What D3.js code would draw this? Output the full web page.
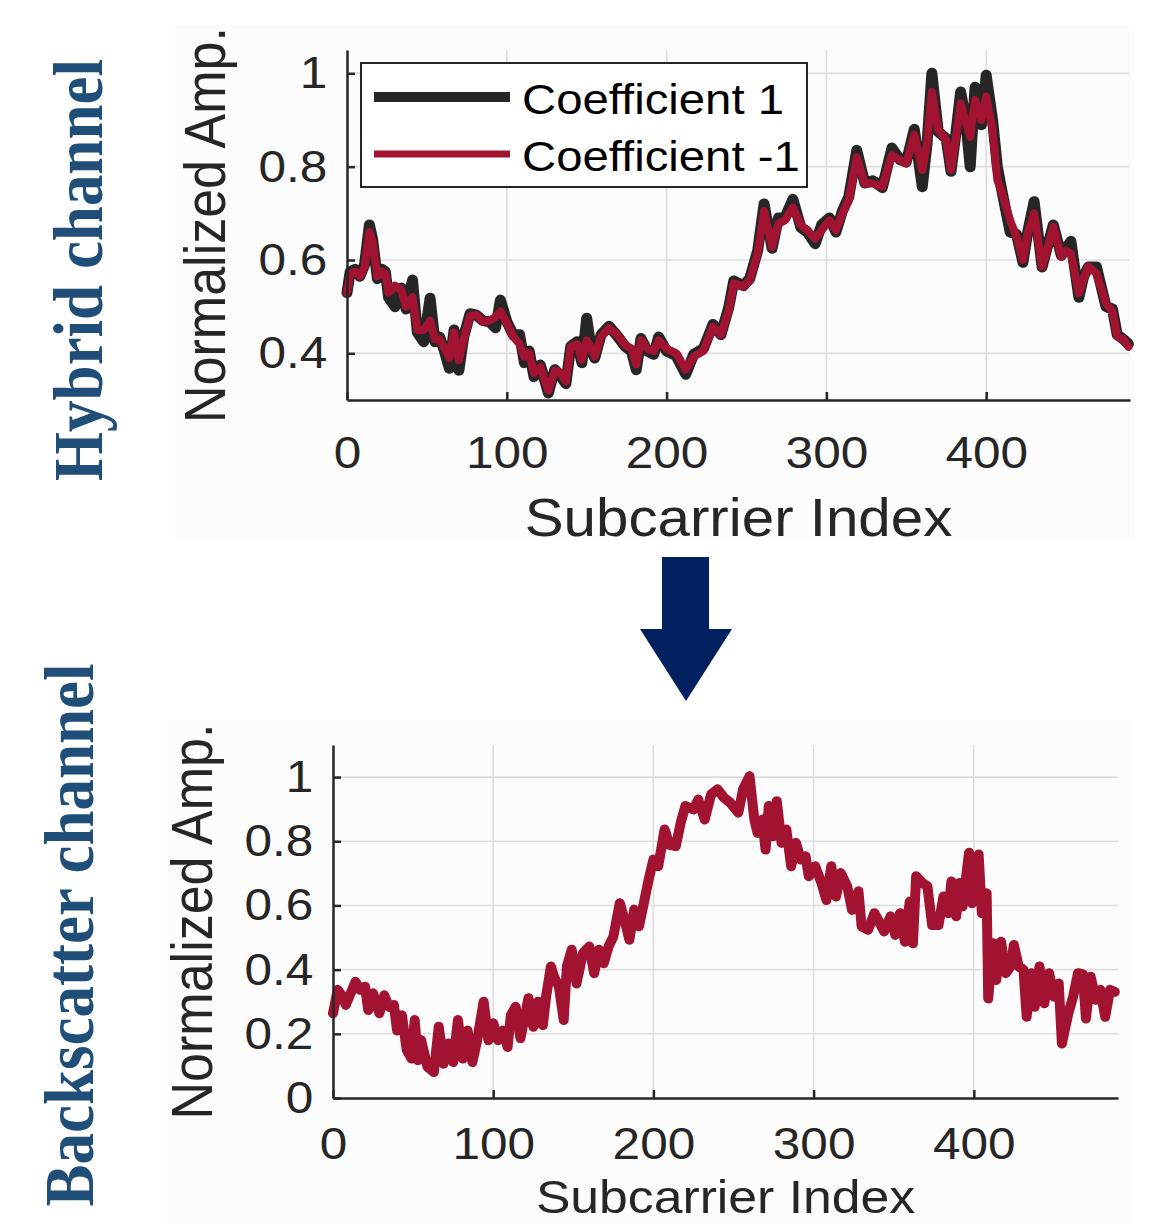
<!DOCTYPE html>
<html>
<head>
<meta charset="utf-8">
<script src="https://cdn.jsdelivr.net/npm/d3@7"></script>
<style>
  body { margin: 0; background: #ffffff; }
  svg text { font-family: "Liberation Sans", Arial, Helvetica, sans-serif; }
  .axis path, .axis line { stroke: #262626; stroke-width: 2.5; }
  .axis text { fill: #262626; }
  .grid line { stroke: #dedede; stroke-width: 1.6; }
</style>
</head>
<body>
<div id="chart"></div>
<script>

// hybrid channel (top)
var topIdx = [0,2,5,8,11,14,16,19,22,24,26,30,34,37,41,44,48,52,55,58,61,64,67,70,73,77,81,85,89,93,96,100,104,108,111,114,117,121,126,130,133,137,140,144,147,150,153,155,159,164,169,174,178,181,184,188,192,195,200,206,212,217,223,229,234,239,242,248,252,257,261,266,270,274,279,284,288,293,297,302,306,310,314,319,324,329,335,341,346,350,355,360,363,366,370,375,378,381,384,387,390,393,397,400,404,407,410,415,419,423,426,430,435,438,442,447,450,453,458,461,464,469,475,479,482,486,489];

var coefNeg = [0.53,0.57,0.575,0.565,0.585,0.66,0.64,0.565,0.575,0.57,0.53,0.545,0.535,0.50,0.52,0.45,0.45,0.47,0.43,0.43,0.41,0.39,0.445,0.385,0.43,0.48,0.482,0.468,0.47,0.478,0.49,0.465,0.436,0.42,0.393,0.40,0.357,0.37,0.32,0.363,0.36,0.34,0.414,0.42,0.386,0.428,0.41,0.393,0.436,0.454,0.44,0.418,0.41,0.376,0.428,0.41,0.405,0.428,0.41,0.40,0.365,0.393,0.405,0.457,0.44,0.493,0.55,0.543,0.557,0.614,0.705,0.628,0.678,0.685,0.712,0.675,0.664,0.646,0.664,0.685,0.664,0.70,0.728,0.82,0.764,0.764,0.757,0.825,0.814,0.807,0.868,0.793,0.85,0.96,0.879,0.857,0.793,0.86,0.936,0.90,0.864,0.943,0.90,0.95,0.879,0.771,0.743,0.685,0.65,0.60,0.657,0.70,0.586,0.62,0.671,0.607,0.62,0.614,0.529,0.56,0.586,0.571,0.507,0.49,0.436,0.43,0.414];

var coefPos = [0.53,0.575,0.58,0.565,0.59,0.675,0.645,0.56,0.58,0.575,0.52,0.50,0.54,0.495,0.557,0.445,0.425,0.518,0.425,0.435,0.405,0.368,0.45,0.364,0.435,0.485,0.482,0.47,0.468,0.455,0.514,0.468,0.44,0.44,0.38,0.405,0.35,0.375,0.315,0.365,0.355,0.335,0.415,0.425,0.38,0.475,0.405,0.39,0.44,0.458,0.438,0.415,0.405,0.365,0.432,0.405,0.398,0.435,0.405,0.395,0.355,0.398,0.41,0.462,0.44,0.50,0.555,0.545,0.56,0.62,0.72,0.625,0.69,0.69,0.73,0.67,0.66,0.635,0.675,0.69,0.66,0.705,0.735,0.835,0.765,0.77,0.755,0.84,0.815,0.81,0.88,0.757,0.85,1.0,0.875,0.86,0.79,0.87,0.96,0.905,0.80,0.97,0.89,0.996,0.90,0.80,0.745,0.66,0.655,0.595,0.66,0.725,0.585,0.625,0.675,0.61,0.625,0.64,0.52,0.565,0.585,0.585,0.50,0.495,0.44,0.43,0.42];

var topYTicks = [0.4, 0.6, 0.8, 1];

// backscatter channel (bottom)
var botIdx = [0,3,6,8,14,17,20,22,25,29,32,35,38,40,43,46,49,51,53,55,59,63,66,69,72,75,78,81,84,87,90,94,97,100,103,106,109,111,114,117,122,125,128,131,133,136,138,141,144,146,149,152,156,160,163,166,169,172,175,179,182,185,188,191,194,197,200,203,207,210,214,217,220,225,228,232,236,240,244,248,253,256,260,263,265,268,270,272,275,277,280,283,286,289,292,295,297,301,305,308,311,314,317,321,324,328,330,334,338,344,348,351,354,357,360,362,364,368,371,374,378,381,384,386,389,391,393,397,399,403,405,408,409,412,414,417,420,423,425,428,431,433,436,438,441,444,447,450,453,455,459,462,465,468,470,473,476,479,482,485,488];

var botAmp = [0.264,0.337,0.316,0.29,0.362,0.337,0.347,0.274,0.326,0.264,0.32,0.284,0.29,0.21,0.258,0.15,0.123,0.243,0.118,0.18,0.097,0.081,0.222,0.107,0.17,0.112,0.243,0.123,0.21,0.112,0.18,0.30,0.18,0.233,0.18,0.21,0.159,0.258,0.284,0.186,0.311,0.222,0.30,0.227,0.316,0.41,0.378,0.347,0.243,0.41,0.462,0.357,0.451,0.472,0.389,0.462,0.42,0.472,0.503,0.607,0.555,0.493,0.587,0.535,0.607,0.68,0.743,0.722,0.837,0.789,0.785,0.857,0.91,0.899,0.93,0.868,0.946,0.962,0.936,0.92,0.889,0.962,1.003,0.868,0.826,0.868,0.774,0.91,0.816,0.925,0.795,0.837,0.722,0.795,0.743,0.753,0.691,0.722,0.669,0.617,0.722,0.628,0.701,0.659,0.586,0.644,0.534,0.524,0.576,0.519,0.566,0.508,0.576,0.487,0.612,0.482,0.691,0.67,0.66,0.539,0.539,0.628,0.576,0.675,0.566,0.67,0.597,0.764,0.607,0.759,0.576,0.638,0.31,0.482,0.368,0.487,0.389,0.41,0.477,0.41,0.40,0.253,0.389,0.284,0.41,0.295,0.389,0.316,0.357,0.17,0.264,0.316,0.389,0.385,0.248,0.378,0.306,0.337,0.253,0.337,0.331];

var botYTicks = [0, 0.2, 0.4, 0.6, 0.8, 1];
var xTicks = [0, 100, 200, 300, 400];

var topSeries = [
  { name: "Coefficient 1", values: coefPos, color: "#262626", width: 11 },
  { name: "Coefficient -1", values: coefNeg, color: "#a11330", width: 8 }
];

var svg = d3.select("#chart")
  .append("svg")
  .attr("width", 1151)
  .attr("height", 1224);

// faint panel backgrounds from the pasted figures
svg.append("rect").attr("x", 175).attr("y", 25).attr("width", 960).attr("height", 513).attr("fill", "#fcfcfc");
svg.append("rect").attr("x", 163).attr("y", 720).attr("width", 967).attr("height", 504).attr("fill", "#fcfcfc");

// text is a bit wider than tall in the figure
function label(g, x, y, str, size, anchor, rotated) {
  return g.append("text")
    .attr("transform", "translate(" + x + "," + y + ")" + (rotated ? " rotate(-90) scale(1,1.1)" : " scale(1.1,1)"))
    .attr("text-anchor", anchor)
    .attr("font-size", size)
    .attr("fill", "#262626")
    .text(str);
}

function panel(opt) {
  var g = svg.append("g");
  var x = d3.scaleLinear().domain([0, 490]).range([opt.left, opt.right]);
  var y = d3.scaleLinear().domain(opt.yDomain).range([opt.bottom, opt.top]);

  // grid
  var grid = g.append("g").attr("class", "grid");
  grid.selectAll(".v").data(xTicks.slice(1)).enter().append("line")
    .attr("x1", function(d) { return x(d); }).attr("x2", function(d) { return x(d); })
    .attr("y1", opt.bottom).attr("y2", opt.top);
  grid.selectAll(".h").data(opt.yTicks.filter(function(d) { return d > opt.yDomain[0]; })).enter().append("line")
    .attr("x1", opt.left).attr("x2", opt.right)
    .attr("y1", function(d) { return y(d); }).attr("y2", function(d) { return y(d); });

  // lines
  var line = d3.line()
    .x(function(d) { return x(d[0]); })
    .y(function(d) { return y(d[1]); });

  opt.series.forEach(function(s) {
    g.append("path")
      .datum(opt.idx.map(function(d, i) { return [d, s.values[i]]; }))
      .attr("fill", "none")
      .attr("stroke", s.color)
      .attr("stroke-width", s.width)
      .attr("stroke-linejoin", "round")
      .attr("stroke-linecap", "round")
      .attr("d", line);
  });

  // axes, matlab style ticks pointing inwards
  var xAxis = d3.axisBottom(x).tickValues(xTicks).tickSizeInner(-8).tickSizeOuter(0).tickPadding(opt.xPad);
  var yAxis = d3.axisLeft(y).tickValues(opt.yTicks).tickSizeInner(-8).tickSizeOuter(0).tickPadding(18)
    .tickFormat(d3.format("~g"));

  g.append("g")
    .attr("class", "x axis")
    .attr("transform", "translate(0," + opt.bottom + ")")
    .call(xAxis)
    .selectAll("text")
    .attr("font-size", 45)
    .attr("transform", "scale(1.1,1)");

  g.append("g")
    .attr("class", "y axis")
    .attr("transform", "translate(" + opt.left + ",0)")
    .call(yAxis)
    .selectAll("text")
    .attr("font-size", 45)
    .attr("transform", "scale(1.1,1)");

  label(g, (opt.left + opt.right) / 2, opt.xLabelY, "Subcarrier Index", opt.xLabelSize, "middle", false);
  label(g, opt.yLabelX, (opt.top + opt.bottom) / 2, "Normalized Amp.", 52, "middle", true);

  return g;
}

var topPanel = panel({
  left: 347, right: 1130, top: 50, bottom: 400,
  yDomain: [0.3, 1.05], yTicks: topYTicks,
  idx: topIdx, series: topSeries,
  xPad: 36, xLabelY: 536, xLabelSize: 53, yLabelX: 225
});

// the x label of the lower figure is cut by the page edge in the source, kept just inside here
panel({
  left: 333, right: 1118, top: 745, bottom: 1098,
  yDomain: [0, 1.1], yTicks: botYTicks,
  idx: botIdx, series: [{ name: "Backscatter", values: botAmp, color: "#a11330", width: 10 }],
  xPad: 29, xLabelY: 1213, xLabelSize: 47, yLabelX: 212
});

// legend
var legend = topPanel.append("g");
legend.append("rect")
  .attr("x", 361).attr("y", 63).attr("width", 446).attr("height", 124)
  .attr("fill", "#ffffff").attr("stroke", "#262626").attr("stroke-width", 2);

legend.selectAll(".item").data(topSeries).enter().append("g")
  .each(function(d, i) {
    var yy = 97 + i * 57;
    d3.select(this).append("line")
      .attr("x1", 374).attr("x2", 510).attr("y1", yy).attr("y2", yy)
      .attr("stroke", d.color).attr("stroke-width", d.width - 1);
    label(d3.select(this), 522, yy + 17, d.name, 43, "start", false).attr("fill", "#000000");
  });

// side titles
svg.append("text")
  .attr("transform", "translate(102,270) rotate(-90) scale(1,1.1)")
  .attr("text-anchor", "middle")
  .style("font-family", "'Liberation Serif', 'Times New Roman', serif")
  .attr("font-weight", "bold")
  .attr("font-size", 63)
  .attr("fill", "#1f4e79")
  .text("Hybrid channel");

svg.append("text")
  .attr("transform", "translate(93,935) rotate(-90) scale(1,1.1)")
  .attr("text-anchor", "middle")
  .style("font-family", "'Liberation Serif', 'Times New Roman', serif")
  .attr("font-weight", "bold")
  .attr("font-size", 63)
  .attr("fill", "#1f4e79")
  .text("Backscatter channel");

// arrow between the two figures
svg.append("polygon")
  .attr("points", "662,557 709,557 709,629 732,629 686,701 640,629 662,629")
  .attr("fill", "#002060");

</script>
</body>
</html>
